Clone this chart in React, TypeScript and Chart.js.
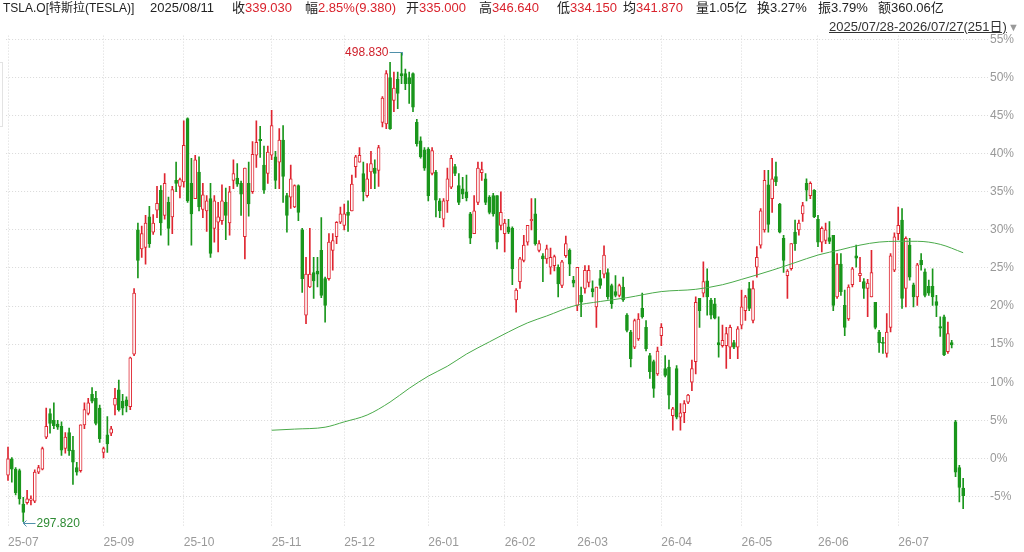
import React, { useEffect, useRef } from "react";
import { Chart, registerables } from "chart.js";

Chart.register(...registerables);

// Each candle: [open %, high %, low %, close %] relative to the reference price
const candles: number[][] = [
  [-2.2, 1.5, -2.9, 0.0], [0.0, 0.1, -3.1, -1.4], [-1.4, -1.2, -4.8, -4.5], [-1.6, -1.4, -6.0, -5.3], [-6.0, -5.1, -8.3, -7.1],
  [-5.8, -4.2, -6.0, -5.3], [-5.5, -4.9, -6.1, -5.3], [-5.6, -1.5, -5.8, -1.8], [-1.8, -0.9, -2.0, -1.2], [-1.4, 1.5, -1.5, 1.3],
  [2.8, 6.6, 2.6, 4.2], [5.9, 6.5, 3.3, 4.6], [5.0, 7.3, 3.9, 4.3], [4.5, 5.0, 3.8, 4.1], [4.2, 4.8, 0.4, 1.1],
  [1.3, 3.4, 0.7, 2.8], [3.4, 4.0, 0.4, 1.0], [1.1, 2.9, -3.4, -0.5], [-1.2, -0.5, -2.2, -1.8], [-1.6, 4.4, -1.8, 4.4],
  [4.4, 7.3, 3.9, 6.4], [5.9, 7.9, 5.7, 7.3], [8.4, 9.3, 7.3, 7.5], [7.9, 8.8, 4.4, 4.6], [6.6, 7.0, 2.1, 2.6],
  [0.8, 1.5, 0.0, 1.3], [3.1, 5.5, 0.8, 1.9], [3.3, 4.2, 3.0, 3.9], [7.0, 9.2, 5.7, 7.9], [9.0, 10.3, 6.2, 6.4],
  [7.5, 8.4, 5.7, 6.6], [7.7, 8.1, 6.1, 6.9], [6.8, 13.3, 6.4, 13.2], [13.7, 22.3, 13.5, 21.7], [30.0, 30.9, 23.7, 26.0],
  [27.5, 30.5, 26.4, 29.5], [27.7, 31.9, 25.5, 30.9], [31.7, 33.1, 27.7, 28.2], [29.7, 32.0, 29.4, 30.9], [32.6, 35.7, 31.6, 33.5],
  [35.2, 35.8, 29.3, 30.9], [31.9, 37.4, 31.4, 36.1], [33.6, 34.3, 28.0, 30.2], [31.7, 35.7, 29.5, 35.3], [36.5, 38.9, 35.0, 36.1],
  [35.7, 36.8, 34.2, 36.6], [36.3, 44.3, 35.6, 41.1], [44.6, 44.7, 33.6, 33.8], [36.1, 39.4, 28.0, 32.1], [34.1, 39.8, 34.1, 39.2],
  [37.6, 39.6, 32.5, 33.0], [32.7, 36.1, 31.6, 34.6], [32.5, 34.5, 29.8, 33.8], [34.1, 36.1, 26.4, 26.9], [30.2, 34.5, 28.4, 33.8],
  [31.0, 33.6, 27.1, 31.7], [31.2, 35.9, 30.7, 33.8], [33.6, 35.5, 28.7, 31.9], [30.9, 35.7, 29.3, 35.0], [36.5, 39.2, 35.4, 37.4],
  [36.8, 38.7, 35.7, 36.0], [36.1, 36.4, 31.9, 34.7], [29.1, 38.1, 26.2, 38.1], [36.1, 38.9, 31.8, 33.4], [35.0, 41.6, 34.8, 39.9],
  [39.8, 44.3, 38.2, 41.5], [41.9, 43.6, 39.5, 41.7], [38.5, 41.0, 34.8, 35.2], [37.4, 41.0, 36.1, 40.2], [39.8, 45.7, 39.2, 43.7],
  [39.6, 40.3, 35.4, 36.5], [38.9, 43.3, 35.4, 41.8], [41.8, 43.7, 33.6, 37.0], [34.5, 34.8, 29.7, 31.9], [34.3, 38.5, 32.8, 36.7],
  [33.0, 35.9, 32.9, 35.8], [35.8, 35.9, 31.2, 32.3], [30.0, 30.2, 21.8, 23.6], [18.8, 26.4, 17.7, 24.2], [22.5, 30.2, 22.4, 24.2],
  [24.4, 26.4, 21.0, 23.3], [24.6, 26.4, 22.5, 24.2], [27.3, 31.6, 21.1, 21.4], [23.6, 23.8, 17.9, 20.1], [23.6, 29.5, 23.4, 28.4],
  [27.3, 29.5, 24.7, 28.6], [29.1, 31.1, 28.2, 31.0], [31.0, 33.0, 30.8, 32.1], [30.6, 33.4, 30.0, 32.1], [32.3, 33.8, 29.8, 31.9],
  [32.5, 37.2, 32.5, 36.0], [38.3, 39.8, 36.9, 39.6], [38.9, 40.8, 38.9, 39.8], [37.4, 38.9, 33.8, 35.0], [34.5, 38.7, 34.3, 36.7],
  [37.6, 40.3, 35.4, 38.7], [38.1, 39.2, 35.4, 37.4], [37.8, 41.1, 35.7, 40.8], [44.1, 47.5, 43.5, 47.3], [43.9, 50.9, 43.3, 50.5],
  [50.0, 52.0, 43.2, 43.3], [47.0, 50.7, 45.5, 48.6], [49.8, 50.7, 45.9, 47.9], [50.5, 53.3, 49.2, 50.2], [50.5, 51.1, 48.4, 49.2],
  [50.0, 50.7, 46.6, 49.2], [50.5, 50.6, 45.5, 46.1], [44.1, 44.5, 41.0, 41.3], [41.7, 42.2, 39.4, 39.6], [40.5, 40.8, 37.8, 38.1],
  [40.6, 40.8, 33.8, 34.5], [37.4, 40.8, 37.2, 40.4], [37.6, 37.8, 31.7, 33.9], [33.8, 34.1, 31.6, 32.5], [31.4, 34.1, 30.4, 33.8],
  [33.8, 38.1, 32.3, 36.7], [35.6, 39.8, 35.4, 39.4], [38.3, 38.6, 37.1, 37.4], [35.8, 37.4, 33.3, 33.6], [35.4, 36.9, 34.1, 34.7],
  [35.0, 37.2, 33.8, 34.2], [32.1, 32.3, 28.2, 28.9], [29.5, 34.5, 29.5, 32.5], [33.6, 38.9, 33.3, 38.1], [37.5, 38.9, 36.5, 37.9],
  [36.7, 37.4, 33.3, 33.6], [34.3, 34.5, 32.1, 32.3], [34.5, 34.8, 31.8, 32.1], [34.5, 34.5, 27.5, 28.4], [30.6, 35.0, 30.0, 32.3],
  [29.5, 31.4, 27.1, 30.9], [30.4, 31.4, 29.5, 29.7], [30.2, 30.4, 22.8, 24.9], [20.8, 22.3, 19.2, 22.1], [23.2, 26.4, 22.3, 26.2],
  [26.0, 29.3, 25.8, 28.0], [28.4, 30.6, 28.0, 30.6], [31.2, 34.1, 30.0, 31.4], [32.1, 34.1, 28.0, 28.2], [27.3, 28.6, 27.1, 28.2],
  [26.6, 26.9, 23.2, 26.2], [26.2, 28.0, 25.6, 27.5], [25.1, 27.6, 24.2, 26.4], [25.3, 26.7, 24.6, 26.5], [25.1, 25.4, 21.2, 22.9],
  [22.7, 26.0, 22.4, 25.8], [26.6, 29.2, 26.4, 28.2], [27.3, 27.5, 24.0, 25.5], [23.4, 23.9, 22.5, 23.0], [20.1, 25.1, 19.4, 25.1],
  [21.4, 22.5, 18.6, 20.5], [22.3, 25.3, 21.7, 24.7], [23.1, 25.3, 22.5, 24.7], [22.3, 23.3, 21.2, 21.9], [19.9, 22.5, 17.2, 22.5],
  [23.6, 24.7, 22.3, 22.7], [24.2, 27.9, 23.7, 26.7], [24.4, 24.9, 20.9, 21.2], [22.7, 22.9, 19.7, 20.3], [21.9, 24.0, 21.2, 21.4],
  [21.4, 22.9, 21.2, 22.7], [22.5, 23.8, 20.6, 20.8], [18.8, 19.0, 16.6, 16.8], [16.6, 16.8, 12.0, 13.1], [14.6, 18.3, 14.4, 18.1],
  [15.7, 19.0, 15.5, 18.3], [19.7, 21.7, 18.4, 18.6], [17.2, 18.1, 14.1, 14.4], [13.5, 13.8, 10.5, 11.4], [12.7, 12.9, 8.0, 9.2],
  [11.1, 14.6, 10.9, 14.1], [16.1, 17.7, 14.8, 17.2], [11.8, 13.5, 10.7, 10.9], [12.0, 12.9, 6.5, 8.3], [5.6, 6.7, 3.7, 6.5],
  [11.8, 12.2, 5.2, 5.4], [5.4, 7.2, 3.7, 6.0], [6.0, 7.6, 4.7, 7.2], [7.4, 8.4, 7.2, 8.3], [10.0, 12.9, 8.9, 11.8],
  [12.7, 21.2, 11.1, 20.5], [21.0, 21.0, 17.2, 19.4], [21.7, 25.8, 21.2, 23.2], [23.3, 24.9, 18.8, 21.2], [20.8, 21.0, 18.3, 18.8],
  [20.3, 21.0, 18.3, 18.4], [15.2, 18.6, 13.3, 14.9], [14.8, 17.5, 14.6, 15.5], [14.8, 17.2, 11.8, 16.4], [14.6, 17.5, 13.1, 17.2],
  [15.2, 15.5, 14.4, 14.6], [14.6, 17.3, 13.1, 17.0], [17.5, 22.1, 17.0, 19.9], [19.4, 21.4, 18.1, 21.2], [22.3, 23.1, 19.4, 19.7],
  [18.1, 23.3, 17.8, 22.3], [25.1, 27.8, 23.8, 26.4], [28.0, 32.8, 27.6, 32.5], [30.0, 37.8, 29.7, 36.5], [35.9, 37.8, 29.7, 30.7],
  [34.1, 39.4, 32.3, 36.7], [37.0, 38.9, 35.8, 36.3], [33.4, 33.5, 29.6, 29.7], [28.9, 29.3, 24.4, 26.0], [24.0, 24.8, 21.0, 24.6],
  [24.9, 28.2, 24.7, 28.2], [29.7, 31.3, 27.3, 28.2], [30.0, 31.3, 29.3, 30.9], [32.1, 33.6, 31.1, 33.2], [36.1, 36.7, 33.8, 35.2],
  [34.5, 36.3, 34.1, 36.1], [35.2, 35.3, 31.6, 31.7], [31.4, 31.9, 27.8, 28.4], [28.4, 30.4, 27.1, 30.2], [28.6, 30.9, 28.2, 30.0],
  [29.0, 31.1, 28.2, 28.5], [29.3, 29.3, 19.4, 20.1], [21.2, 26.9, 21.0, 25.5], [25.5, 26.9, 21.4, 21.9], [20.1, 22.1, 16.1, 17.2],
  [18.3, 22.8, 18.1, 22.5], [22.8, 25.1, 22.5, 24.9], [26.6, 28.0, 25.1, 26.3], [24.0, 26.4, 23.2, 24.3], [23.2, 23.6, 21.0, 22.3],
  [22.3, 23.5, 18.6, 23.0], [21.2, 27.3, 21.2, 24.4], [20.5, 20.5, 17.0, 17.2], [16.6, 16.8, 13.9, 15.2], [15.2, 15.9, 13.8, 15.1],
  [13.8, 19.0, 13.3, 16.6], [17.2, 26.9, 16.6, 26.6], [24.7, 29.6, 24.5, 29.1], [29.5, 33.0, 28.7, 30.6], [31.3, 32.8, 19.7, 21.0],
  [22.3, 29.1, 19.9, 28.9], [28.0, 28.9, 23.4, 23.8], [22.8, 23.0, 19.9, 21.2], [21.2, 25.6, 20.1, 25.4], [26.0, 26.9, 24.7, 25.4],
  [24.5, 24.9, 21.2, 21.4], [22.6, 23.4, 21.4, 21.7], [22.6, 24.9, 20.1, 21.2], [20.6, 21.4, 18.6, 20.1], [17.3, 18.6, 16.0, 17.1],
  [18.6, 18.8, 13.5, 13.6], [14.0, 17.9, 13.8, 16.4], [15.2, 15.5, 14.5, 14.9], [4.8, 5.0, -2.4, -1.8], [-1.2, -0.9, -5.7, -3.8],
  [-3.9, -2.6, -6.6, -4.9],
];

// moving-average line, read at selected candles
const maIndex = [69, 75, 83, 88, 94, 100, 105, 110, 115, 120, 126, 131, 136, 141, 148, 155, 162, 171, 180, 187, 192, 200, 206, 212, 218, 223, 228, 233, 238, 244, 250];
const maValues = [3.7, 3.85, 4.1, 4.8, 5.7, 7.4, 9.2, 10.8, 12.1, 13.7, 15.3, 16.6, 17.8, 18.7, 20.0, 20.6, 21.1, 21.9, 22.2, 22.8, 23.5, 24.7, 25.7, 26.7, 27.4, 28.0, 28.4, 28.5, 28.5, 28.1, 27.0];

const monthStarts = [0, 25, 46, 69, 88, 110, 130, 149, 171, 192, 212, 233];
const monthLabels = ["25-07", "25-09", "25-10", "25-11", "25-12", "26-01", "26-02", "26-03", "26-04", "26-05", "26-06", "26-07"];
const yTickValues = [-5, 0, 5, 10, 15, 20, 25, 30, 35, 40, 45, 50, 55];
const trailingSlots = 6;

const highLabel = "498.830";
const lowLabel = "297.820";

const title = "TSLA.O[特斯拉(TESLA)]";
const hoverDate = "2025/08/11";
const quoteNames = ["收", "幅", "开", "高", "低", "均", "量", "换", "振", "额"];
const quoteValues = ["339.030", "2.85%(9.380)", "335.000", "346.640", "334.150", "341.870", "1.05亿", "3.27%", "3.79%", "360.06亿"];
const rangeText = "2025/07/28-2026/07/27(251日)";

const RED = "#df2530";
const GREEN = "#1a961c";
const MA_COLOR = "#4aaa4a";
const FONT = "'Liberation Sans', Arial, 'Noto Sans CJK SC', sans-serif";
const quoteX = [232, 305, 406, 479, 557, 623, 696, 757, 818, 878];

export default function App() {
  const ref = useRef<HTMLCanvasElement>(null);

  useEffect(() => {
    const n = candles.length + trailingSlots;
    const labels = Array.from({ length: n }, (_, i) => String(i));
    const padTail = (arr: any[]) => arr.concat(Array(trailingSlots).fill(null));
    const up = candles.map((c) => c[3] >= c[0]);
    const bodies = padTail(candles.map((c) => [c[0], c[3]]));
    const wicks = padTail(candles.map((c) => [c[2], c[1]]));
    const ma: (number | null)[] = Array(n).fill(null);
    maIndex.forEach((idx, k) => {
      ma[idx] = maValues[k];
    });
    const labelAt = new Map<number, string>(monthStarts.map((s, k) => [s, monthLabels[k]]));

    const annot = {
      id: "hiLo",
      afterDatasetsDraw(chart: any) {
        const xs = chart.scales.x;
        const ys = chart.scales.y;
        const ctx = chart.ctx;
        let hi = 0;
        let lo = 0;
        candles.forEach((c, i) => {
          if (c[1] > candles[hi][1]) hi = i;
          if (c[2] < candles[lo][2]) lo = i;
        });
        ctx.save();
        ctx.font = `12px ${FONT}`;
        ctx.textBaseline = "middle";
        ctx.lineWidth = 1;
        ctx.strokeStyle = "#4f90aa";
        const hx = Math.round(xs.getPixelForValue(hi)) + 0.5;
        const hy = Math.round(ys.getPixelForValue(candles[hi][1])) + 0.5;
        ctx.beginPath();
        ctx.moveTo(hx - 13, hy);
        ctx.lineTo(hx, hy);
        ctx.lineTo(hx, hy + 3);
        ctx.stroke();
        ctx.fillStyle = "#cf1f2a";
        ctx.textAlign = "right";
        ctx.fillText(highLabel, hx - 14, hy);
        const lx = Math.round(xs.getPixelForValue(lo)) + 0.5;
        const ly = Math.round(ys.getPixelForValue(candles[lo][2])) + 1.5;
        ctx.beginPath();
        ctx.moveTo(lx, ly - 2);
        ctx.lineTo(lx, ly);
        ctx.lineTo(lx + 12, ly);
        ctx.moveTo(lx + 3, ly - 3);
        ctx.lineTo(lx, ly);
        ctx.lineTo(lx + 3, ly + 3);
        ctx.stroke();
        ctx.fillStyle = "#2e8b34";
        ctx.textAlign = "left";
        ctx.fillText(lowLabel, lx + 13, ly);
        ctx.restore();
      },
    };

    const chart = new Chart(ref.current as HTMLCanvasElement, {
      type: "bar",
      data: {
        labels,
        datasets: [
          {
            type: "line",
            data: ma,
            borderColor: MA_COLOR,
            borderWidth: 1,
            pointRadius: 0,
            spanGaps: true,
            cubicInterpolationMode: "monotone",
            order: 0,
          } as any,
          {
            type: "bar",
            data: bodies,
            backgroundColor: up.map((u) => (u ? "#ffffff" : GREEN)),
            borderColor: up.map((u) => (u ? RED : GREEN)),
            borderWidth: 1,
            borderSkipped: false,
            barThickness: 3,
            grouped: false,
            minBarLength: 1,
            order: 1,
          } as any,
          {
            type: "bar",
            data: wicks,
            backgroundColor: up.map((u) => (u ? RED : GREEN)),
            borderWidth: 0,
            barThickness: 1,
            grouped: false,
            order: 2,
          } as any,
        ],
      },
      options: {
        responsive: false,
        animation: false,
        events: [],
        layout: { padding: { top: 35.6, left: 2.2, right: 0, bottom: 0 } },
        plugins: { legend: { display: false }, tooltip: { enabled: false } },
        scales: {
          x: {
            type: "category",
            offset: true,
            grid: {
              offset: false,
              drawTicks: false,
              color: (c: any) => (labelAt.has(c.index) ? "#d9d9d9" : "rgba(0,0,0,0)"),
            },
            border: { display: false, dash: [1, 2] },
            ticks: {
              autoSkip: false,
              maxRotation: 0,
              minRotation: 0,
              align: "start",
              padding: 8,
              color: "#999999",
              font: { size: 12, family: FONT },
              callback: (_v: any, i: number) => labelAt.get(i) ?? "",
            },
            afterFit: (s: any) => {
              s.height = 25;
            },
          } as any,
          y: {
            position: "right",
            min: -9,
            max: 55.5,
            afterBuildTicks: (s: any) => {
              s.ticks = yTickValues.map((v) => ({ value: v }));
            },
            afterFit: (s: any) => {
              s.width = 36;
            },
            grid: { color: "#d9d9d9", drawTicks: false },
            border: { display: false, dash: [1, 2] },
            ticks: {
              padding: 2,
              color: "#999999",
              font: { size: 12, family: FONT },
              callback: (v: any) => `${v}%`,
            },
          } as any,
        },
      },
      plugins: [annot],
    });
    return () => chart.destroy();
  }, []);

  const base: React.CSSProperties = {
    position: "absolute",
    top: 0,
    fontSize: 13,
    lineHeight: "16px",
    whiteSpace: "nowrap",
    color: "#222",
  };

  return (
    <div
      style={{
        position: "relative",
        width: 1024,
        height: 552,
        overflow: "hidden",
        background: "#fff",
        fontFamily: FONT,
      }}
    >
      <style>{`body{margin:0}`}</style>
      <canvas ref={ref} width={1024} height={552} style={{ position: "absolute", left: 0, top: 0 }} />
      <div style={{ ...base, left: 3, fontSize: 12 }}>{title}</div>
      <div style={{ ...base, left: 150 }}>{hoverDate}</div>
      {quoteNames.map((name, k) => (
        <div key={name} style={{ ...base, left: quoteX[k] }}>
          {name}
          <span style={{ color: k < 6 ? "#d9232d" : "#222" }}>{quoteValues[k]}</span>
        </div>
      ))}
      <div style={{ ...base, top: 19, left: 829, textDecoration: "underline", color: "#333" }}>{rangeText}</div>
      <div style={{ ...base, top: 19, left: 1008, fontSize: 11, color: "#999" }}>▼</div>
      <div
        style={{
          position: "absolute",
          left: 0,
          top: 62,
          width: 2,
          height: 63,
          border: "1px solid #e3e3e3",
          borderLeft: "none",
        }}
      />
    </div>
  );
}
